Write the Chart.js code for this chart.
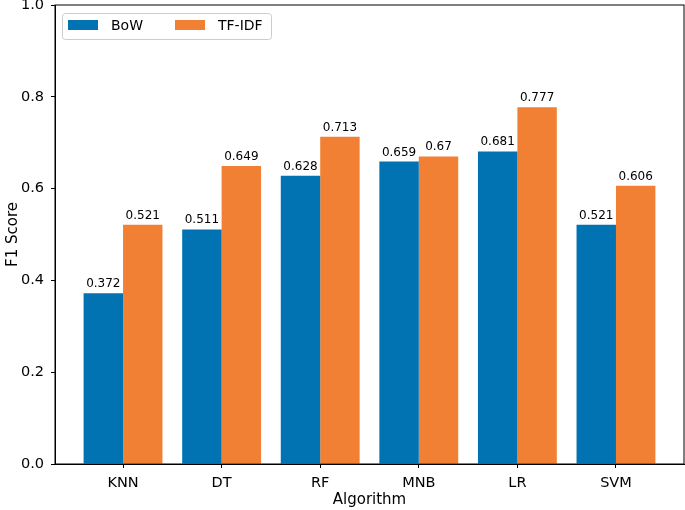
<!DOCTYPE html>
<html>
<head>
<meta charset="utf-8">
<script src="https://cdn.jsdelivr.net/npm/chart.js@4/dist/chart.umd.min.js"></script>
<style>
  html, body { margin: 0; padding: 0; background: #fff; }
  #myChart { display: block; }
</style>
</head>
<body>
<canvas id="myChart" width="685" height="510"></canvas>
<script>
const algorithms = ['KNN', 'DT', 'RF', 'MNB', 'LR', 'SVM']
const bowScores = [0.372, 0.511, 0.628, 0.659, 0.681, 0.521]
const tfidfScores = [0.521, 0.649, 0.713, 0.67, 0.777, 0.606]
const yTicks = [0.0, 0.2, 0.4, 0.6, 0.8, 1.0]

const blue = '#0173b2'
const orange = '#f28034'
const fontFamily = "'DejaVu Sans', sans-serif"

function toPoints(values) {
  return values.map((v, i) => ({ x: i, y: v }))
}

// matplotlib style full frame around the plot area
const framePlugin = {
  id: 'frame',
  afterDatasetsDraw(chart) {
    const { ctx, chartArea: a } = chart
    ctx.save()
    ctx.strokeStyle = '#000'
    ctx.lineWidth = 1
    ctx.strokeRect(a.left, a.top, a.right - a.left, a.bottom - a.top)
    ctx.restore()
  }
}

// value labels on top of each bar
const valueLabels = {
  id: 'valueLabels',
  afterDatasetsDraw(chart) {
    const ctx = chart.ctx
    ctx.save()
    ctx.font = '12px ' + fontFamily
    ctx.fillStyle = '#000'
    ctx.textAlign = 'center'
    ctx.textBaseline = 'alphabetic'
    chart.data.datasets.forEach((ds, di) => {
      const meta = chart.getDatasetMeta(di)
      meta.data.forEach((bar, i) => {
        const v = ds.data[i].y
        ctx.fillText(String(v), bar.x, bar.y - 6)
      })
    })
    ctx.restore()
  }
}

// legend inside the axes, upper left
const innerLegend = {
  id: 'innerLegend',
  afterDraw(chart) {
    const { ctx, chartArea: a } = chart
    const x0 = a.left + 7
    const y0 = a.top + 8
    const w = 209
    const h = 26
    ctx.save()
    ctx.beginPath()
    ctx.roundRect(x0 + 0.5, y0 + 0.5, w, h, 3)
    ctx.fillStyle = 'rgba(255,255,255,0.8)'
    ctx.fill()
    ctx.strokeStyle = '#cccccc'
    ctx.lineWidth = 1
    ctx.stroke()
    ctx.font = '14px ' + fontFamily
    ctx.textBaseline = 'middle'
    ctx.textAlign = 'left'
    let x = x0 + 6
    chart.data.datasets.forEach((ds) => {
      ctx.fillStyle = ds.backgroundColor
      ctx.fillRect(x, y0 + 7, 30, 10)
      ctx.fillStyle = '#000'
      ctx.fillText(ds.label, x + 43, y0 + 13)
      x += 107
    })
    ctx.restore()
  }
}

function initChart() {
  const ctx = document.getElementById('myChart')

  const data = {
    datasets: [
      {
        label: 'BoW',
        data: toPoints(bowScores),
        backgroundColor: blue,
        borderWidth: 0
      },
      {
        label: 'TF-IDF',
        data: toPoints(tfidfScores),
        backgroundColor: orange,
        borderWidth: 0
      }
    ]
  }

  const config = {
    type: 'bar',
    data: data,
    plugins: [framePlugin, valueLabels, innerLegend],
    options: {
      responsive: false,
      animation: false,
      devicePixelRatio: 1,
      categoryPercentage: 0.8,
      barPercentage: 1.0,
      layout: {
        padding: { top: 5, right: 1, left: 0, bottom: 1 }
      },
      plugins: {
        legend: { display: false },
        tooltip: { enabled: false }
      },
      scales: {
        x: {
          type: 'linear',
          min: -0.69,
          max: 5.69,
          offset: false,
          grid: {
            display: true,
            offset: false,
            drawOnChartArea: false,
            drawTicks: true,
            tickLength: 4,
            color: '#000'
          },
          border: { color: '#000' },
          ticks: {
            stepSize: 1,
            includeBounds: false,
            autoSkip: false,
            maxRotation: 0,
            padding: 7,
            color: '#000',
            font: { family: fontFamily, size: 14.5 },
            callback: (v) => (Number.isInteger(v) ? algorithms[v] : '')
          },
          title: {
            display: true,
            text: 'Algorithm',
            color: '#000',
            font: { family: fontFamily, size: 15 },
            padding: { top: 2, bottom: 0 }
          },
          afterFit(scale) {
            scale.height = 45
            scale.paddingLeft = 0
            scale.paddingRight = 0
          }
        },
        y: {
          min: 0,
          max: 1,
          grid: {
            display: true,
            offset: false,
            drawOnChartArea: false,
            drawTicks: true,
            tickLength: 4,
            color: '#000'
          },
          border: { color: '#000' },
          afterBuildTicks(scale) {
            scale.ticks = yTicks.map((v) => ({ value: v }))
          },
          ticks: {
            padding: 7,
            color: '#000',
            font: { family: fontFamily, size: 14.5 },
            callback: (v) => v.toFixed(1)
          },
          title: {
            display: true,
            text: 'F1 Score',
            color: '#000',
            font: { family: fontFamily, size: 15 },
            padding: { top: 4, bottom: 0 }
          },
          afterFit(scale) {
            scale.width = 55
            scale.paddingTop = 0
            scale.paddingBottom = 0
          }
        }
      }
    }
  }
  // eslint-disable-next-line no-undef
  return new Chart(ctx, config)
}

initChart()
</script>
</body>
</html>
